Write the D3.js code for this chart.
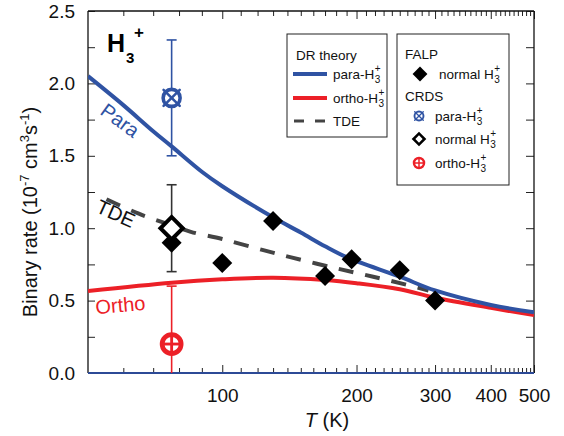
<!DOCTYPE html>
<html>
<head>
<meta charset="utf-8">
<script src="https://cdn.jsdelivr.net/npm/d3@7"></script>
<style>
  html, body { margin: 0; padding: 0; background: #fff; }
  svg { display: block; font-family: "Liberation Sans", Arial, Helvetica, sans-serif; }
</style>
</head>
<body>
<svg id="chart" width="564" height="436"></svg>
<script>
// Dissociative recombination rate of H3+ versus temperature

// DR theory curves: [T (K), rate in 1e-7 cm^3 s^-1]
const paraTheory = [[50, 2.05], [60, 1.85], [70, 1.67], [77, 1.565], [90, 1.39], [100, 1.29],
  [130, 1.075], [150, 0.97], [170, 0.875], [190, 0.80], [250, 0.665], [300, 0.57], [400, 0.47], [500, 0.42]];
const orthoTheory = [[50, 0.566], [77, 0.624], [100, 0.647], [130, 0.658], [170, 0.642],
  [200, 0.62], [250, 0.578], [300, 0.52], [400, 0.45], [500, 0.40]];
const tdeTheory = [[55, 1.2], [65, 1.1], [77, 1.02], [85, 0.975], [100, 0.925], [123, 0.85],
  [142, 0.80], [179, 0.725], [218, 0.665], [260, 0.608], [290, 0.57]];

// FALP measurements, normal H3+
const falpT = [77, 100, 130, 170, 195, 250, 300];
const falpRate = [0.9, 0.76, 1.05, 0.67, 0.785, 0.71, 0.5];

// CRDS measurements at 77 K: [T, rate, low, high]
const crdsPara = [77, 1.9, 1.5, 2.3];
const crdsNormal = [77, 1.0, 0.7, 1.3];
const crdsOrtho = [77, 0.2, -0.2, 0.6];

// axis ticks
const xTickLabels = [100, 200, 300, 400, 500];
const yTickLabels = [0.0, 0.5, 1.0, 1.5, 2.0, 2.5];

const BLUE = "#2f53a3", RED = "#ec2027", DASH = "#444";
const svg = d3.select("#chart");
const L = 88, R = 534, T = 11, B = 373;

const x = d3.scaleLog().domain([50, 500]).range([L, R]);
const y = d3.scaleLinear().domain([0, 2.5]).range([B, T]);

svg.append("defs").append("clipPath").attr("id", "plot")
  .append("rect").attr("x", L).attr("y", T).attr("width", R - L).attr("height", B - T);

// ---- ticks (inward on all four sides)
const minorX = d3.range(60, 100, 10).concat(d3.range(110, 500, 10)).filter(v => !xTickLabels.includes(v));
const minorY = [0.25, 0.75, 1.25, 1.75, 2.25];

const bottomAxis = d3.axisBottom(x).tickValues(xTickLabels).tickFormat(d3.format("d")).tickSize(-8).tickPadding(16);
const gB = svg.append("g").attr("transform", `translate(0,${B})`).call(bottomAxis);
const bottomMinor = d3.axisBottom(x).tickValues(minorX).tickFormat("").tickSize(-5);
svg.append("g").attr("transform", `translate(0,${B})`).call(bottomMinor);
const topAxis = d3.axisTop(x).tickValues(xTickLabels).tickFormat("").tickSize(-8);
svg.append("g").attr("transform", `translate(0,${T})`).call(topAxis);
const topMinor = d3.axisTop(x).tickValues(minorX).tickFormat("").tickSize(-5);
svg.append("g").attr("transform", `translate(0,${T})`).call(topMinor);

const leftAxis = d3.axisLeft(y).tickValues(yTickLabels).tickFormat(d3.format(".1f")).tickSize(-7).tickPadding(13);
svg.append("g").attr("transform", `translate(${L},0)`).call(leftAxis);
svg.append("g").attr("transform", `translate(${L},0)`)
  .call(d3.axisLeft(y).tickValues(minorY).tickFormat("").tickSize(-7));
svg.append("g").attr("transform", `translate(${R},0)`)
  .call(d3.axisRight(y).tickValues(yTickLabels.concat(minorY)).tickFormat("").tickSize(-8));

svg.selectAll(".domain").remove();
svg.selectAll(".tick line").attr("stroke", "#222").attr("stroke-width", 1);
svg.selectAll(".tick text").attr("font-size", 19).attr("fill", "#111")
  .attr("font-family", "Liberation Sans, Arial, sans-serif");
gB.selectAll(".tick text").attr("dy", "0.71em");

// frame
svg.append("line").attr("x1", L).attr("x2", L).attr("y1", T).attr("y2", B).attr("stroke", "#111").attr("stroke-width", 1.3);
svg.append("line").attr("x1", R).attr("x2", R).attr("y1", T).attr("y2", B).attr("stroke", "#111").attr("stroke-width", 1.3);
svg.append("line").attr("x1", L).attr("x2", R).attr("y1", T).attr("y2", T).attr("stroke", "#111").attr("stroke-width", 1.3);

// ---- axis titles
const yTitle = svg.append("text").attr("transform", "translate(37,212) rotate(-90)")
  .attr("text-anchor", "middle").attr("font-size", 20).attr("fill", "#111");
yTitle.append("tspan").text("Binary rate (10");
yTitle.append("tspan").attr("font-size", 13).attr("dy", -8).text("-7");
yTitle.append("tspan").attr("dy", 8).text(" cm");
yTitle.append("tspan").attr("font-size", 13).attr("dy", -8).text("3");
yTitle.append("tspan").attr("dy", 8).text("s");
yTitle.append("tspan").attr("font-size", 13).attr("dy", -8).text("-1");
yTitle.append("tspan").attr("dy", 8).text(")");

const xTitle = svg.append("text").attr("x", 327).attr("y", 427).attr("text-anchor", "middle")
  .attr("font-size", 20).attr("fill", "#111");
xTitle.append("tspan").attr("font-style", "italic").text("T");
xTitle.append("tspan").text(" (K)");

// ---- theory curves
const line = d3.line().x(d => x(d[0])).y(d => y(d[1])).curve(d3.curveCatmullRom.alpha(0.5));
const plot = svg.append("g").attr("clip-path", "url(#plot)");

plot.append("path").datum(tdeTheory).attr("d", line).attr("fill", "none")
  .attr("stroke", DASH).attr("stroke-width", 4).attr("stroke-dasharray", "15,12");
plot.append("path").datum(orthoTheory).attr("d", line).attr("fill", "none")
  .attr("stroke", RED).attr("stroke-width", 4);
plot.append("path").datum(paraTheory).attr("d", line).attr("fill", "none")
  .attr("stroke", BLUE).attr("stroke-width", 4);

// bottom axis line
svg.append("line").attr("x1", L).attr("x2", R).attr("y1", B).attr("y2", B)
  .attr("stroke", "#2c4a96").attr("stroke-width", 1.8);

// ---- markers
function errorBar(g, d, color, capTop, capBottom) {
  const cx = x(d[0]);
  g.append("line").attr("x1", cx).attr("x2", cx).attr("y1", y(d[2])).attr("y2", y(d[3]))
    .attr("stroke", color).attr("stroke-width", 1.6);
  if (capTop) g.append("line").attr("x1", cx - 5).attr("x2", cx + 5).attr("y1", y(d[3])).attr("y2", y(d[3]))
    .attr("stroke", color).attr("stroke-width", 1.6);
  if (capBottom) g.append("line").attr("x1", cx - 5).attr("x2", cx + 5).attr("y1", y(d[2])).attr("y2", y(d[2]))
    .attr("stroke", color).attr("stroke-width", 1.6);
}

function paraMarker(g, cx, cy, r) {
  g.append("circle").attr("cx", cx).attr("cy", cy).attr("r", r).attr("fill", "#fff")
    .attr("stroke", BLUE).attr("stroke-width", r * 0.42);
  const e = r * 0.95;
  [[-1, -1, 1, 1], [-1, 1, 1, -1]].forEach(s => {
    g.append("line").attr("x1", cx + s[0] * e).attr("y1", cy + s[1] * e)
      .attr("x2", cx + s[2] * e).attr("y2", cy + s[3] * e)
      .attr("stroke", BLUE).attr("stroke-width", r * 0.3).attr("stroke-linecap", "round");
  });
}
function orthoMarker(g, cx, cy, r) {
  g.append("circle").attr("cx", cx).attr("cy", cy).attr("r", r).attr("fill", "#fff")
    .attr("stroke", RED).attr("stroke-width", r * 0.5);
  g.append("line").attr("x1", cx - r).attr("x2", cx + r).attr("y1", cy).attr("y2", cy)
    .attr("stroke", RED).attr("stroke-width", r * 0.3);
  g.append("line").attr("x1", cx).attr("x2", cx).attr("y1", cy - r).attr("y2", cy + r)
    .attr("stroke", RED).attr("stroke-width", r * 0.3);
}
function openDiamond(g, cx, cy, size, sw) {
  g.append("path").attr("d", d3.symbol().type(d3.symbolSquare).size(size)())
    .attr("transform", `translate(${cx},${cy}) rotate(45)`)
    .attr("fill", "#fff").attr("stroke", "#000").attr("stroke-width", sw).attr("stroke-linejoin", "miter");
}
function filledDiamond(g, cx, cy, size) {
  g.append("path").attr("d", d3.symbol().type(d3.symbolSquare).size(size)())
    .attr("transform", `translate(${cx},${cy}) rotate(45)`).attr("fill", "#000");
}

const marks = svg.append("g").attr("clip-path", "url(#plot)");
errorBar(marks, crdsOrtho, RED, true, false);
errorBar(marks, crdsNormal, "#333", true, true);
errorBar(marks, crdsPara, BLUE, true, true);

falpT.forEach((t, i) => filledDiamond(marks, x(t), y(falpRate[i]), 200));
openDiamond(marks, x(crdsNormal[0]), y(crdsNormal[1]), 250, 4);
paraMarker(marks, x(crdsPara[0]), y(crdsPara[1]), 8.5);
orthoMarker(marks, x(crdsOrtho[0]), y(crdsOrtho[1]), 9.5);

// ---- curve labels
svg.append("text").attr("transform", "translate(116,126) rotate(36)").attr("text-anchor", "middle")
  .attr("font-size", 20).attr("fill", BLUE).text("Para");
svg.append("text").attr("transform", "translate(113,220) rotate(24)").attr("text-anchor", "middle")
  .attr("font-size", 20).attr("fill", "#111").text("TDE");
svg.append("text").attr("transform", "translate(121,312) rotate(-5)").attr("text-anchor", "middle")
  .attr("font-size", 20).attr("fill", RED).text("Ortho");

// ---- H3+ label
const h3 = svg.append("text").attr("x", 107).attr("y", 52).attr("font-size", 25)
  .attr("font-weight", "bold").attr("fill", "#000");
h3.append("tspan").text("H");
svg.append("text").attr("x", 126).attr("y", 63).attr("font-size", 15).attr("font-weight", "bold").text("3");
svg.append("text").attr("x", 134).attr("y", 38).attr("font-size", 17).attr("font-weight", "bold").text("+");

// ---- legends
function h3Label(g, x0, yb, prefix) {
  const t = g.append("text").attr("x", x0).attr("y", yb).attr("font-size", 13.5).attr("fill", "#111");
  t.append("tspan").text(prefix + "H");
  const w = t.node().getComputedTextLength();
  g.append("text").attr("x", x0 + w + 0.5).attr("y", yb - 7).attr("font-size", 10).attr("fill", "#111").text("+");
  g.append("text").attr("x", x0 + w + 0.5).attr("y", yb + 4).attr("font-size", 10).attr("fill", "#111").text("3");
}

const lg1 = svg.append("g");
lg1.append("rect").attr("x", 287).attr("y", 34).attr("width", 100).attr("height", 103)
  .attr("fill", "#fff").attr("stroke", "#222").attr("stroke-width", 1);
lg1.append("text").attr("x", 296).attr("y", 60).attr("font-size", 13.5).attr("fill", "#111").text("DR theory");
const rows1 = [{c: BLUE, lab: "para-", y: 74}, {c: RED, lab: "ortho-", y: 98}];
rows1.forEach(r => {
  lg1.append("line").attr("x1", 293).attr("x2", 327).attr("y1", r.y).attr("y2", r.y)
    .attr("stroke", r.c).attr("stroke-width", 4);
  h3Label(lg1, 333, r.y + 5, r.lab);
});
lg1.append("line").attr("x1", 294).attr("x2", 326).attr("y1", 121).attr("y2", 121)
  .attr("stroke", DASH).attr("stroke-width", 3).attr("stroke-dasharray", "10,11");
lg1.append("text").attr("x", 333).attr("y", 126).attr("font-size", 13.5).attr("fill", "#111").text("TDE");

const lg2 = svg.append("g");
lg2.append("rect").attr("x", 397).attr("y", 34).attr("width", 112).attr("height", 151)
  .attr("fill", "#fff").attr("stroke", "#222").attr("stroke-width", 1);
lg2.append("text").attr("x", 405).attr("y", 59).attr("font-size", 13.5).attr("fill", "#111").text("FALP");
filledDiamond(lg2, 420, 74, 110);
h3Label(lg2, 439, 79, "normal ");
lg2.append("text").attr("x", 405).attr("y", 101).attr("font-size", 13.5).attr("fill", "#111").text("CRDS");
paraMarker(lg2, 419, 116, 4.5);
h3Label(lg2, 435, 121, "para-");
openDiamond(lg2, 419, 139, 60, 2.6);
h3Label(lg2, 435, 144, "normal ");
orthoMarker(lg2, 419, 163, 5);
h3Label(lg2, 435, 168, "ortho-");
</script>
</body>
</html>
